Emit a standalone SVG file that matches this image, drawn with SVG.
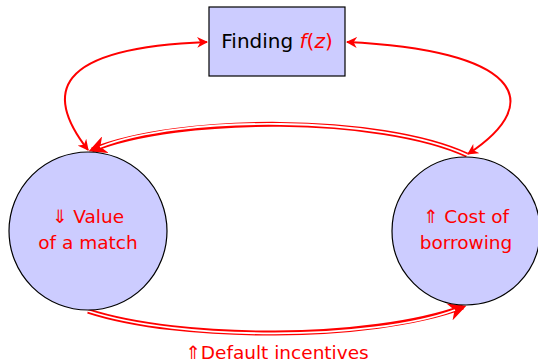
<svg xmlns="http://www.w3.org/2000/svg" width="538" height="364" viewBox="0 0 538 364">
<style>
.node{fill:#ccccff;stroke:#000;stroke-width:1.2}
.lbl{font-family:"DejaVu Sans","Liberation Sans",sans-serif;font-size:18.5px;fill:#ff0000;text-anchor:middle}
.single{fill:none;stroke:#ff0000;stroke-width:2}
.dbl{fill:none;stroke:#ff0000;stroke-width:5}
.inner{fill:none;stroke:#ffffff;stroke-width:1.8}
</style>
<defs>
<marker id="ah" viewBox="0 0 10 10" refX="9" refY="5" markerWidth="5.5" markerHeight="5.5" orient="auto-start-reverse" markerUnits="strokeWidth">
<path d="M0,0 L10,5 L0,10 L3,5 Z" fill="#ff0000"/>
</marker>
<marker id="ah2" viewBox="0 0 10 10" refX="8" refY="5" markerWidth="3.6" markerHeight="3.6" orient="auto" markerUnits="strokeWidth">
<path d="M0,0 L10,5 L0,10 L3,5 Z" fill="#ff0000"/>
</marker>
</defs>
<g id="connectors">
<path class="single" d="M207,42 C50,48 45,95 88,150" marker-start="url(#ah)" marker-end="url(#ah)"/>
<path class="single" d="M347,42 C515,50 550,100 468,154" marker-start="url(#ah)" marker-end="url(#ah)"/>
<path class="dbl" d="M467,155 C380,115 180,115 92,150" marker-end="url(#ah2)"/>
<path class="inner" d="M467,155 C380,115 180,115 100,147"/>
<path class="dbl" d="M88,311 C180,341 370,341 463,307" marker-end="url(#ah2)"/>
<path class="inner" d="M88,311 C180,341 370,341 455,310"/>
</g>
<g id="finding">
<rect class="node" x="209" y="7" width="136" height="69"/>
<text x="277" y="48" class="lbl" style="fill:#000;font-size:20px">Finding <tspan fill="#ff0000" font-style="italic">f</tspan><tspan fill="#ff0000">(</tspan><tspan fill="#ff0000" font-style="italic">z</tspan><tspan fill="#ff0000">)</tspan></text>
</g>
<g id="value">
<circle class="node" cx="88" cy="231" r="79"/>
<text x="88" y="223" class="lbl">⇓ Value</text>
<text x="88" y="249" class="lbl">of a match</text>
</g>
<g id="cost">
<circle class="node" cx="466" cy="231" r="74"/>
<text x="466" y="223" class="lbl">⇑ Cost of</text>
<text x="466" y="249" class="lbl">borrowing</text>
</g>
<g id="default-label">
<text x="277" y="359" class="lbl">⇑Default incentives</text>
</g>
</svg>
